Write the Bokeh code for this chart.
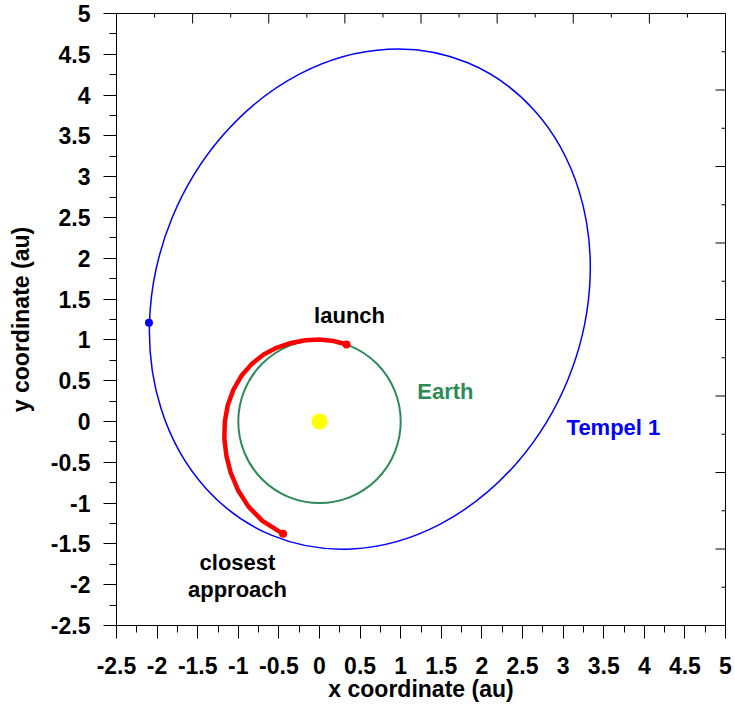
from bokeh.plotting import figure
from bokeh.models import Range1d, FixedTicker, ColumnDataSource
from bokeh.core.properties import value
from bokeh.embed import file_html
from bokeh.resources import INLINE

# ---------------- data ----------------
x_ticks = [-2.5, -2, -1.5, -1, -0.5, 0, 0.5, 1, 1.5, 2, 2.5, 3, 3.5, 4, 4.5, 5]
x_tick_labels = ["-2.5", "-2", "-1.5", "-1", "-0.5", "0", "0.5", "1", "1.5", "2",
                 "2.5", "3", "3.5", "4", "4.5", "5"]
y_ticks = [-2.5, -2, -1.5, -1, -0.5, 0, 0.5, 1, 1.5, 2, 2.5, 3, 3.5, 4, 4.5, 5]
y_tick_labels = ["-2.5", "-2", "-1.5", "-1", "-0.5", "0", "0.5", "1", "1.5", "2",
                 "2.5", "3", "3.5", "4", "4.5", "5"]
frame_ticks = [0, 2, 4, 6, 8, 10, 12, 14, 16]      # unlabeled top/right ticks
frame_minor = [1, 3, 5, 7, 9, 11, 13, 15]

# Tempel 1 orbit (ellipse: centre, full axes, tilt in degrees)
tempel_cx = [0.62]
tempel_cy = [1.50]
tempel_w = [6.30]
tempel_h = [5.24]
tempel_angle = [67.5]

# Earth orbit
earth_cx = [0.0]
earth_cy = [0.0]
earth_w = [2.0]
earth_h = [2.0]

# Sun
sun_x = [0.0]
sun_y = [0.0]

# transfer trajectory (launch -> closest approach)
traj_x = [0.333, 0.174, 0.000, -0.176, -0.351, -0.523, -0.688, -0.837, -0.964,
          -1.062, -1.130, -1.166, -1.172, -1.147, -1.093, -1.003, -0.875,
          -0.703, -0.449]
traj_y = [0.944, 0.987, 1.004, 0.996, 0.963, 0.906, 0.820, 0.703, 0.557,
          0.386, 0.199, 0.000, -0.207, -0.418, -0.631, -0.842, -1.043,
          -1.217, -1.376]

# event points
event_x = [0.333, -0.449]
event_y = [0.944, -1.376]
tempel_pos_x = [-2.10]
tempel_pos_y = [1.21]

# annotations
label_text = ["launch", "Earth", "Tempel 1", "closest", "approach"]
label_x = [0.37, 1.55, 3.62, -1.01, -1.01]
label_y = [1.295, 0.373, -0.077, -1.732, -2.063]
label_color = ["#000000", "#2E8B57", "#0000FF", "#000000", "#000000"]

FONT = "Liberation Sans"

p = figure(width=735, height=704,
           x_range=Range1d(-2.5, 5), y_range=Range1d(-2.5, 5),
           output_backend="svg", toolbar_location=None,
           min_border_left=116, min_border_right=10,
           min_border_top=13, min_border_bottom=79)
p.xgrid.visible = False
p.ygrid.visible = False
p.outline_line_color = "black"
p.background_fill_color = "white"

def mid(vals):
    return [(a + b) / 2 for a, b in zip(vals[:-1], vals[1:])]

# main axes
xa = p.xaxis[0]
xa.ticker = FixedTicker(ticks=x_ticks, minor_ticks=mid(x_ticks))
xa.major_label_overrides = {t: l for t, l in zip(x_ticks, x_tick_labels)}
ya = p.yaxis[0]
ya.ticker = FixedTicker(ticks=y_ticks, minor_ticks=mid(y_ticks))
ya.major_label_overrides = {t: l for t, l in zip(y_ticks, y_tick_labels)}

for ax in (xa, ya):
    ax.major_tick_out = 13
    ax.major_tick_in = 0
    ax.minor_tick_out = 7
    ax.minor_tick_in = 0
    ax.axis_line_color = "black"
    ax.major_tick_line_color = "black"
    ax.minor_tick_line_color = "black"
    ax.major_label_text_font = FONT
    ax.major_label_text_font_style = "bold"
    ax.major_label_text_font_size = "23px"
    ax.major_label_text_color = "black"
    ax.axis_label_text_font = FONT
    ax.axis_label_text_font_style = "bold"
    ax.axis_label_text_font_size = "23px"
    ax.axis_label_text_color = "black"

xa.axis_label = "x coordinate (au)"
xa.major_label_standoff = 18
xa.axis_label_standoff = -1
ya.axis_label = "y coordinate (au)"
ya.major_label_standoff = 13
ya.axis_label_standoff = 14

# top and right frame ticks (unlabeled, pointing inward)
p.extra_x_ranges = {"top": Range1d(0, 16)}
p.extra_y_ranges = {"right": Range1d(0, 16)}
y_top = p.y_range.end
x_right = p.x_range.end
p.ray(x=frame_ticks, y=[y_top] * len(frame_ticks), x_range_name="top",
      length=10, length_units="screen", angle=-90, angle_units="deg",
      line_color="black", line_width=1)
p.ray(x=frame_minor, y=[y_top] * len(frame_minor), x_range_name="top",
      length=4, length_units="screen", angle=-90, angle_units="deg",
      line_color="black", line_width=1)
p.ray(x=[x_right] * len(frame_ticks), y=frame_ticks, y_range_name="right",
      length=10, length_units="screen", angle=180, angle_units="deg",
      line_color="black", line_width=1)
p.ray(x=[x_right] * len(frame_minor), y=frame_minor, y_range_name="right",
      length=4, length_units="screen", angle=180, angle_units="deg",
      line_color="black", line_width=1)

# orbits
p.ellipse(x=tempel_cx, y=tempel_cy, width=tempel_w, height=tempel_h,
          angle=tempel_angle, angle_units="deg",
          fill_color=None, line_color="#0000FF", line_width=1.5)
p.ellipse(x=earth_cx, y=earth_cy, width=earth_w, height=earth_h,
          fill_color=None, line_color="#2E8B57", line_width=2)

# trajectory
p.line(traj_x, traj_y, line_color="#FF0000", line_width=4.5,
       line_join="round", line_cap="round")

# points
p.scatter(sun_x, sun_y, size=16, fill_color="#FFFF00", line_color=None)
p.scatter(event_x, event_y, size=8, fill_color="#FF0000", line_color=None)
p.scatter(tempel_pos_x, tempel_pos_y, size=8, fill_color="#0000FF", line_color=None)

# labels
src = ColumnDataSource(dict(x=label_x, y=label_y, t=label_text, c=label_color))
p.text(x="x", y="y", text="t", text_color="c", source=src,
       text_font=value(FONT), text_font_style="bold", text_font_size="22px",
       text_align="center", text_baseline="middle")

open("out.html", "w").write(file_html(p, INLINE))
